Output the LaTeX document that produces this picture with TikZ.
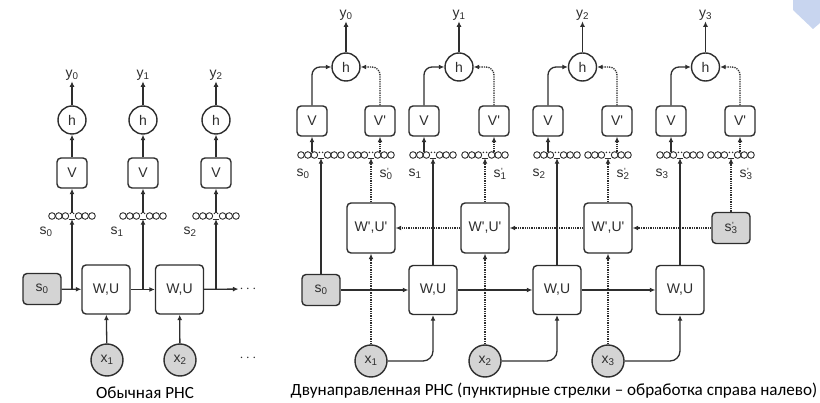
\documentclass[tikz,border=0pt]{standalone}
\usepackage{fontspec}
\setmainfont{Liberation Sans}
\newfontfamily\capfont{Carlito}
\usetikzlibrary{calc,shapes,arrows.meta}
\definecolor{inkgray}{HTML}{2E2E2E}
\definecolor{boxgray}{HTML}{D4D4D4}
\definecolor{cornerblue}{HTML}{C8D5EF}
\tikzstyle{arr}=[draw=inkgray,line width=1.3pt,-{Latex[length=5.5pt,width=5pt]}]
\tikzstyle{dotarr}=[arr,densely dotted]
\tikzstyle{whitebox}=[rectangle,rounded corners=4pt,draw=inkgray,line width=1.4pt,
                      fill=white,text=inkgray,font=\fontsize{14}{16}\selectfont,inner sep=0pt]
\tikzstyle{vbox}=[whitebox,minimum width=30,minimum height=30]
\tikzstyle{wubox}=[whitebox,minimum width=48,minimum height=49]
\tikzstyle{graybox}=[whitebox,fill=boxgray,minimum width=38,minimum height=31]
\tikzstyle{hnode}=[circle,draw=inkgray,line width=1.4pt,fill=white,text=inkgray,
                   font=\fontsize{14}{16}\selectfont,minimum size=28,inner sep=0pt]
\tikzstyle{xnode}=[hnode,fill=boxgray,minimum size=32]
\tikzstyle{lab}=[text=inkgray,font=\fontsize{14}{16}\selectfont,inner sep=1pt]
\tikzstyle{caption}=[text=black,font=\capfont\fontsize{17.1}{19}\selectfont,inner sep=0pt]
\tikzstyle{vec}=[rectangle,minimum width=47,minimum height=6,inner sep=0pt]
\newcommand\pr{\textquotesingle}
\newcommand\sprm[1]{s\rlap{\kern0.5pt\raisebox{0.35ex}{\fontsize{9}{9}\selectfont\pr}}\textsubscript{#1}}
% little row of cells for a state vector
\newcommand\statevec[1]{
  \foreach \d in {-20,-13.2,-6.6,6.6,13.2,20}
    \draw[inkgray,line width=0.9pt] ($(#1.center)+(\d,0)$) circle (3.3pt);
  \draw[inkgray,line width=0.9pt] ($(#1.center)+(-3.3,3.3)$) -- ($(#1.center)+(3.3,3.3)$);
  \fill[inkgray] ($(#1.center)+(-1.6,-2.6)$) circle (0.85pt) ($(#1.center)+(1.6,-2.6)$) circle (0.85pt);
}

\begin{document}
\begin{tikzpicture}[x=1pt,y=-1pt]
    \useasboundingbox (0,0) rectangle (820,403);
    \fill[cornerblue] (793,0) -- (793,10) -- (813,29) -- (820,23) -- (820,0) -- cycle;

    % plain RNN
    \node [graybox] (ls0) at (42,289) {s\textsubscript{0}};
    \node [wubox] (lwu1) at (106,289.5) {W,U};
    \node [wubox] (lwu2) at (179.5,289.5) {W,U};
    \node [lab] (ldots) at (248,289) {$\cdots$};
    \node [xnode] (lx1) at (107,360) {x\textsubscript{1}};
    \node [xnode] (lx2) at (180,360) {x\textsubscript{2}};
    \node [lab] (ldotsx) at (248,358) {$\cdots$};
    \draw [arr] (ls0) -- (lwu1);
    \draw [arr] (lwu1) -- (lwu2);
    \draw [arr] (lwu2) -- (ldots);
    \draw [arr] (lx1) -- (lwu1);
    \draw [arr] (lx2) -- (lwu2);
    \foreach \i/\c in {0/72,1/143,2/216} {
      \node [lab] (ly\i) at (\c,75) {y\textsubscript{\i}};
      \node [hnode] (lh\i) at (\c,120) {h};
      \node [vbox] (lv\i) at (\c,173) {V};
      \node [vec] (lsv\i) at (\c,216) {};
      \statevec{lsv\i}
      \node [lab] (lsl\i) at (\c-26,232) {s\textsubscript{\i}};
      \draw [arr] (lh\i) -- (ly\i);
      \draw [arr] (lv\i) -- (lh\i);
      \draw [arr] (lsv\i) -- (lv\i);
      \draw [arr] (lsv\i.south |- ls0.east) -- (lsv\i.south);
    }
    \node [caption] (lcap) at (145,393) {Обычная РНС};

    % bidirectional RNN
    \node [graybox] (s0) at (321,290) {s\textsubscript{0}};
    \node [graybox] (sp3) at (731,228) {\sprm{3}};
    \foreach \i/\a/\b in {1/433/371,2/557/485,3/680/608} {
      \node [wubox] (wu\i) at (\a,290) {W,U};
      \node [xnode] (x\i) at (\b,361) {x\textsubscript{\i}};
    }
    \foreach \i/\b in {0/371,1/485,2/608} {
      \node [wubox,minimum height=50] (wup\i) at (\b,228) {W\pr,U\pr};
    }
    \draw [arr] (s0) -- (wu1);
    \draw [arr] (wu1) -- (wu2);
    \draw [arr] (wu2) -- (wu3);
    \draw [dotarr] (sp3) -- (wup2);
    \draw [dotarr] (wup2) -- (wup1);
    \draw [dotarr] (wup1) -- (wup0);
    \foreach \i/\j in {1/0,2/1,3/2} {
      \draw [dotarr] (x\i) -- (wup\j);
      \draw [arr,rounded corners=10pt] (x\i.east) -| (wu\i.south);
    }
    \foreach \i/\a/\b/\h in {0/321/371/346,1/433/485/459,2/557/608/582.5,3/680/731/705.5} {
      \node [vec] (sv\i) at (\a,155) {};
      \statevec{sv\i}
      \node [vec] (svp\i) at (\b,155) {};
      \statevec{svp\i}
      \node [vbox] (v\i) at (\a-9,121) {V};
      \node [vbox] (vp\i) at (\b+9,121) {V\pr};
      \node [hnode] (h\i) at (\h,67) {h};
      \node [lab] (y\i) at (\h,15) {y\textsubscript{\i}};
      \node [lab] (sl\i) at (\a-18,174) {s\textsubscript{\i}};
      \node [lab] (slp\i) at (\b+15,174) {\sprm{\i}};
      \draw [arr] (sv\i.north -| v\i) -- (v\i.south);
      \draw [dotarr] (svp\i.north -| vp\i) -- (vp\i.south);
      \draw [arr,rounded corners=8pt] (v\i.north) |- (h\i.west);
      \draw [dotarr,rounded corners=8pt] (vp\i.north) |- (h\i.east);
      \draw [arr] (h\i) -- (y\i);
    }
    \draw [arr] (s0) -- (sv0);
    \draw [arr] (wu1) -- (sv1);
    \draw [arr] (wu2) -- (sv2);
    \draw [arr] (wu3) -- (sv3);
    \draw [dotarr] (wup0) -- (svp0);
    \draw [dotarr] (wup1) -- (svp1);
    \draw [dotarr] (wup2) -- (svp2);
    \draw [dotarr] (sp3) -- (svp3);
    \node [caption] (rcap) at (554,391)
      {Двунаправленная РНС (пунктирные стрелки – обработка справа налево)};
\end{tikzpicture}
\end{document}
